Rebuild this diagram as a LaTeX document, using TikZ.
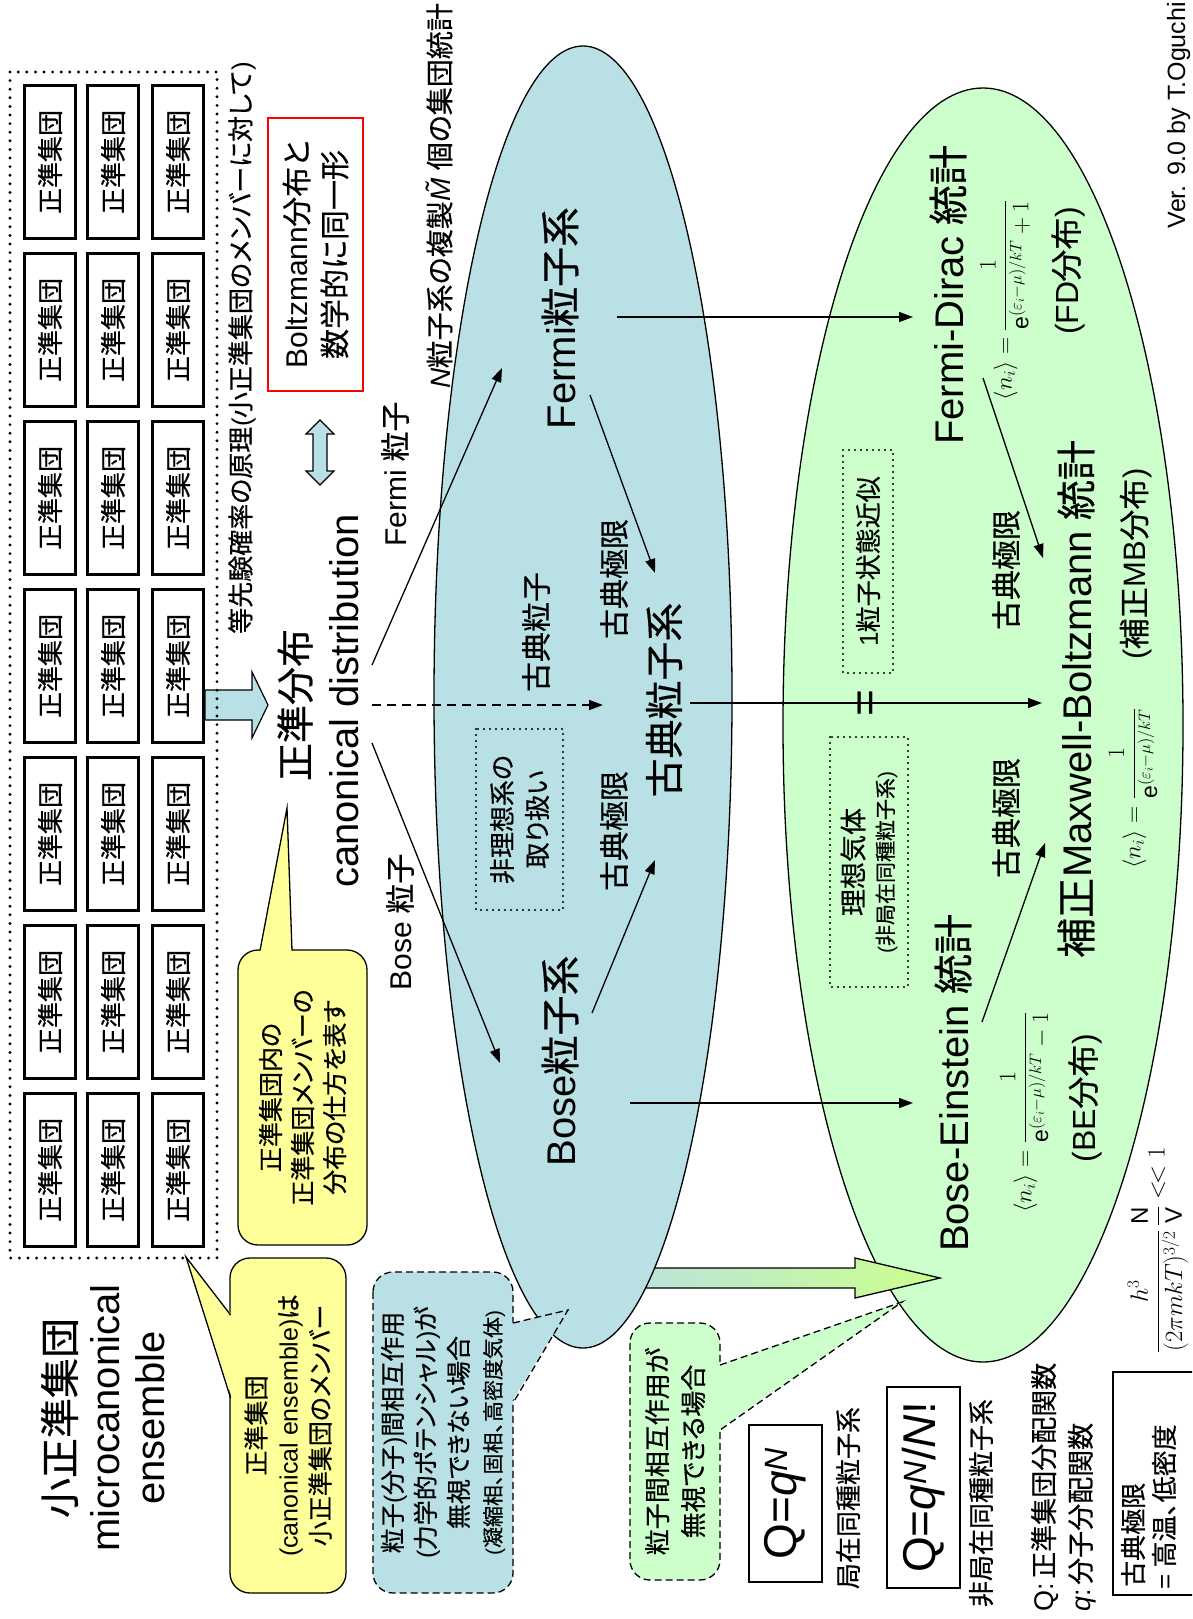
\documentclass[tikz,border=0pt]{standalone}
\usepackage{amsmath}
\usepackage{fontspec}
\setmainfont{Liberation Sans}
\newfontfamily\latfont{Liberation Sans}
\newfontfamily\cjkfont[RawFeature={+palt;embolden=0.5}]{Noto Sans CJK JP}
\usetikzlibrary{arrows.meta}
\XeTeXinterchartokenstate=1
\chardef\cjkcls=7
\count255="3000
\loop
  \XeTeXcharclass\count255=\cjkcls
  \advance\count255 by 1
\ifnum\count255<"A000 \repeat
\XeTeXinterchartoks 0 \cjkcls = {\cjkfont}
\XeTeXinterchartoks 4095 \cjkcls = {\cjkfont}
\XeTeXinterchartoks \cjkcls 0 = {\latfont}
\XeTeXinterchartoks \cjkcls 4095 = {\latfont}
\newcommand\fz[2]{\fontsize{#1}{#2}\selectfont}
\definecolor{blueF}{RGB}{185,224,228}
\definecolor{greenF}{RGB}{204,255,204}
\definecolor{yellowF}{RGB}{255,255,153}
\definecolor{arrowG}{RGB}{204,255,140}
\tikzset{
  rt/.style={rotate=90, inner sep=0pt, align=center},
  cbox/.style={rt, draw, line width=3pt, fill=white, minimum width=153pt, minimum height=51pt, font=\fz{26}{30}},
  arr/.style={line width=1.3pt, -{Triangle[length=14pt,width=10pt]}},
  dotbox/.style={rt, draw, line width=2.4pt, dash pattern=on 0pt off 6pt, line cap=round},
  callout/.style={rt, draw, line width=1.3pt, rounded corners=20pt},
  dsh/.style={line width=1.3pt, dash pattern=on 7pt off 4pt},
  fml/.style={rt, font=\fz{20}{24}, scale=1.15},
}
\begin{document}
\begin{tikzpicture}[x=1pt,y=-1pt]
\useasboundingbox (0,0) rectangle (1192,1619);
\clip (0,0) rectangle (1192,1619);

% ---- ellipses and wide arrow
\draw[fill=greenF, line width=1.3pt] (983,725) ellipse [x radius=200pt, y radius=637pt];
\shadedraw[left color=blueF, right color=arrowG, line width=1.3pt]
  (600,1268) -- (855,1268) -- (855,1258) -- (940,1278) -- (855,1298) -- (855,1288) -- (600,1288) -- cycle;
\draw[fill=blueF, line width=1.3pt] (583,697) ellipse [x radius=149pt, y radius=651pt];

% ---- grid of canonical ensembles
\draw[fill=blueF, line width=1.2pt] (205,690) -- (252,690) -- (252,672) -- (268,705) -- (252,738) -- (252,720) -- (205,720) -- cycle;
\foreach \c/\x in {1/50,2/113,3/178}
  \foreach \r in {0,...,6}
    \node[cbox] (b\c\r) at (\x,{162+168*\r}) {正準集団};
\draw[line width=3.2pt, dash pattern=on 0pt off 8.6pt, line cap=round] (10,72) rectangle (217,1258);

% ---- top texts
\node[rt, font=\fz{26}{30}] (prin) at (242,348) {等先験確率の原理(小正準集団のメンバーに対して)};
\node[rt, draw=red, line width=1.5pt, fill=white, minimum width=273pt, minimum height=95pt, font=\fz{30}{38}] (boltz) at (315.5,254.5) {Boltzmann分布と\\数学的に同一形};
\draw[fill=blueF, line width=1.2pt] (320,420) -- (334,434) -- (327,434) -- (327,471) -- (334,471) -- (320,485) -- (306,471) -- (313,471) -- (313,434) -- (306,434) -- cycle;
\node[rt, anchor=east, font=\fz{28}{30}] (nsys) at (439,3) {\textit{N}粒子系の複製\textit{\~M} 個の集団統計};
\node[rt, anchor=base east, font=\fz{25}{30}] (ver) at (1185,2) {Ver. 9.0 by T.Oguchi};

% ---- canonical distribution
\node[rt, font=\fz{38}{40}] (seijun) at (295,705) {正準分布};
\node[rt, anchor=base, font=\fz{40}{44}] (canon) at (358,701) {canonical distribution};
\node[rt, font=\fz{30}{34}] (fermip) at (395,474) {Fermi 粒子};
\node[rt, font=\fz{30}{34}] (bosep) at (400,922) {Bose 粒子};

% ---- blue ellipse contents
\node[rt, font=\fz{40}{44}] (fermisys) at (560,318) {Fermi粒子系};
\node[rt, font=\fz{40}{44}] (bosesys) at (560,1061) {Bose粒子系};
\node[rt, font=\fz{39}{44}] (classsys) at (664,700) {古典粒子系};
\node[rt, font=\fz{30}{34}] (classp) at (536,632) {古典粒子};
\node[rt, font=\fz{30}{34}] (lim1) at (614,579) {古典極限};
\node[rt, font=\fz{30}{34}] (lim2) at (614,831) {古典極限};
\node[dotbox, minimum width=181pt, minimum height=87pt, font=\fz{26}{35}] (nonideal) at (519.5,819.5) {非理想系の\\取り扱い};

% ---- green ellipse contents
\node[rt, font=\fz{40}{44}] (fd) at (948,295) {Fermi-Dirac 統計};
\node[fml] (fdf) at (1005,300) {$\langle n_i\rangle=\dfrac{1}{\mathrm{e}^{(\varepsilon_i-\mu)/kT}+1}$};
\node[rt, font=\fz{32}{36}] (fdd) at (1068,271) {(FD分布)};
\node[dotbox, minimum width=223pt, minimum height=50pt, font=\fz{26}{30}] (onep) at (868,561.5) {1粒子状態近似};
\node[dotbox, minimum width=250pt, minimum height=78pt, font=\fz{27}{30}] (ideal) at (869,862) {理想気体\\{\fz{21}{30}(非局在同種粒子系)}};
\node[rt, font=\fz{30}{34}] (lim3) at (1006,570) {古典極限};
\node[rt, font=\fz{30}{34}] (lim4) at (1006,818) {古典極限};
\node[rt, font=\fz{40}{44}] (mb) at (1076,699) {補正Maxwell-Boltzmann 統計};
\node[fml] (mbf) at (1133,788) {$\langle n_i\rangle=\dfrac{1}{\mathrm{e}^{(\varepsilon_i-\mu)/kT}}$};
\node[rt, font=\fz{31}{36}] (mbd) at (1136,564) {(補正MB分布)};
\node[rt, font=\fz{40}{44}] (be) at (953,1083) {Bose-Einstein 統計};
\node[fml] (bef) at (1025,1112) {$\langle n_i\rangle=\dfrac{1}{\mathrm{e}^{(\varepsilon_i-\mu)/kT}-1}$};
\node[rt, font=\fz{32}{36}] (bed) at (1085,1098) {(BE分布)};

% ---- arrows
\coordinate (a1s) at (372,665); \coordinate (a1e) at (502,368);
\coordinate (a2s) at (372,743); \coordinate (a2e) at (500,1063);
\coordinate (a3s) at (372,705); \coordinate (a3e) at (603,705);
\coordinate (a4s) at (590,395); \coordinate (a4e) at (655,573);
\coordinate (a5s) at (592,1013); \coordinate (a5e) at (655,860);
\coordinate (a6s) at (690,703); \coordinate (a6e) at (1042,703);
\coordinate (a7s) at (617,317); \coordinate (a7e) at (913,317);
\coordinate (a8s) at (630,1103); \coordinate (a8e) at (913,1103);
\coordinate (a9s) at (983,378); \coordinate (a9e) at (1043,558);
\coordinate (a10s) at (982,1022); \coordinate (a10e) at (1045,843);
\draw[arr] (a1s) -- (a1e);
\draw[arr] (a2s) -- (a2e);
\draw[arr, dash pattern=on 9pt off 6pt, line width=1.6pt] (a3s) -- (a3e);
\draw[arr] (a4s) -- (a4e);
\draw[arr] (a5s) -- (a5e);
\draw[arr] (a6s) -- (a6e);
\draw[arr] (a7s) -- (a7e);
\draw[arr] (a8s) -- (a8e);
\draw[arr] (a9s) -- (a9e);
\draw[arr] (a10s) -- (a10e);
\node[rt, font=\fz{46}{46}] (eq) at (869,703) {=};

% ---- left bottom
\node[rt, font=\fz{40}{45}] (title) at (103,1418) {小正準集団\\microcanonical\\ensemble};
\node[callout, fill=yellowF, minimum width=295pt, minimum height=129pt, font=\fz{25}{32}] (y1) at (302.5,1097.5) {正準集団内の\\正準集団メンバーの\\分布の仕方を表す};
\fill[yellowF] (260,952) -- (287,808) -- (292,952) -- cycle;
\draw[line width=1.3pt] (260,950.6) -- (287,808) -- (292,950.6);
\node[callout, fill=yellowF, minimum width=335pt, minimum height=116pt, font=\fz{25}{32}] (y2) at (288,1425.5) {正準集団\\(canonical ensemble)は\\小正準集団のメンバー};
\fill[yellowF] (232,1315) -- (186,1257) -- (232,1398) -- cycle;
\draw[line width=1.3pt] (230.6,1315) -- (186,1257) -- (230.6,1398);
\node[callout, dsh, fill=blueF, minimum width=321pt, minimum height=140pt, font=\fz{25}{33}] (bc) at (443,1432.5) {粒子(分子)間相互作用\\(力学的ポテンシャル)が\\無視できない場合\\{\fz{21}{33}(凝縮相、固相、高密度気体)}};
\fill[blueF] (511,1323) -- (568,1310) -- (511,1403) -- cycle;
\draw[dsh] (513,1323) -- (568,1310) -- (513,1403);
\node[callout, dsh, fill=greenF, minimum width=257pt, minimum height=90pt, font=\fz{26}{36}] (gc) at (675,1451.5) {粒子間相互作用が\\無視できる場合};
\fill[greenF] (718,1365) -- (902,1302) -- (718,1430) -- cycle;
\draw[dsh] (720,1365) -- (902,1302) -- (720,1430);

% ---- bottom right
\node[rt, draw, line width=1.3pt, minimum width=157pt, minimum height=73pt, font=\fz{46}{50}] (q1) at (785.5,1503.5) {Q=\textit{q}\textsuperscript{\textit{N}}};
\node[rt, font=\fz{26}{30}] (l1) at (848,1498) {局在同種粒子系};
\node[rt, draw, line width=1.3pt, minimum width=201pt, minimum height=73pt, font=\fz{46}{50}] (q2) at (923.5,1487.5) {Q=\textit{q}\textsuperscript{\textit{N}}/\textit{N}!};
\node[rt, font=\fz{26}{30}] (l2) at (981,1503) {非局在同種粒子系};
\node[rt, anchor=west, font=\fz{27}{30}] (qd1) at (1045,1612) {Q:\,正準集団分配関数};
\node[rt, anchor=west, font=\fz{27}{30}] (qd2) at (1082,1612) {\textit{q}:\,分子分配関数};
\node[rt, draw, line width=1.3pt, minimum width=223pt, minimum height=92pt] (clbox) at (1159,1483.5) {};
\node[rt, anchor=west, font=\fz{26}{30}] (cl1) at (1133,1587) {古典極限};
\node[rt, anchor=west, font=\fz{26}{30}] (cl2) at (1164,1590) {= 高温、低密度};
\node[rt, font=\fz{24}{28}] (frac) at (1158,1250) {$\dfrac{h^3}{(2\pi mkT)^{3/2}}\,\dfrac{\text{N}}{\text{V}}<\!<1$};
\end{tikzpicture}
\end{document}
